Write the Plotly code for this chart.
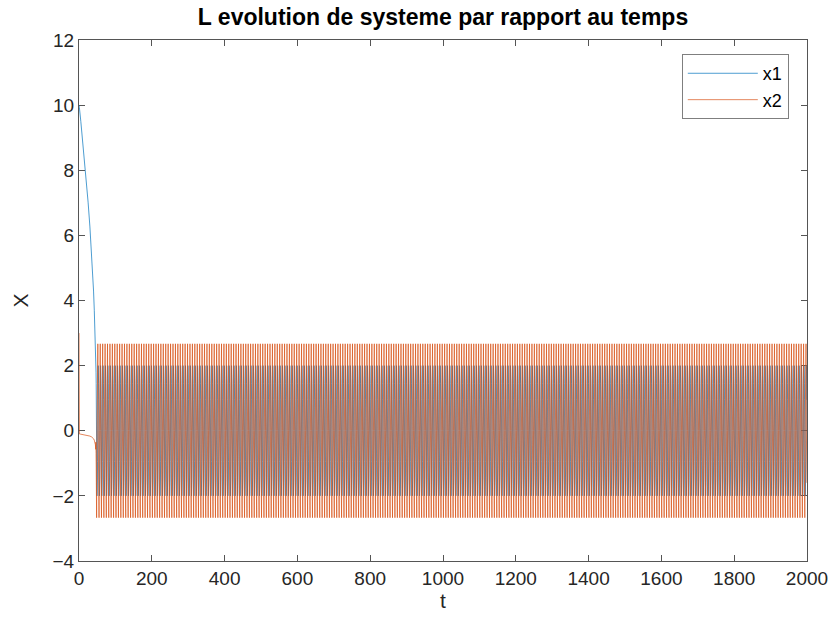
import plotly.graph_objects as go

# Start-up transient (slow drift of x1 from its initial value)
t_transient = [0.0, 0.02, 0.05, 0.1, 0.3, 1.0, 5.0, 10.0, 15.0, 20.0, 25.0, 30.0,
               35.0, 38.0, 40.0, 42.0, 44.0, 45.0, 46.0]
x1_transient = [10.0, 10.0, 9.99, 9.99, 9.98, 9.93, 9.50, 8.93, 8.35, 7.72, 7.02, 6.26,
                5.38, 4.80, 4.29, 3.70, 3.10, 2.70, 2.20]
x2_transient = [3.00, 1.60, 0.60, 0.05, -0.09, -0.10, -0.106, -0.113, -0.121, -0.132,
                -0.145, -0.164, -0.193, -0.218, -0.246, -0.29, -0.36, -0.43, -0.57]

# One period of the steady limit cycle (phase time, x1, x2)
cycle_period = 6.663
cycle_phase = [0.0, 0.4, 0.8, 1.2, 1.6, 2.0, 2.4, 2.8,
               3.33, 3.73, 4.13, 4.53, 4.93, 5.33, 5.73, 6.13]
cycle_x1 = [2.00, 1.95, 1.80, 1.45, 0.95, 0.15, -0.85, -1.65,
            -2.00, -1.95, -1.80, -1.45, -0.95, -0.15, 0.85, 1.65]
cycle_x2 = [0.00, -0.35, -0.70, -1.05, -1.60, -2.30, -2.67, -1.60,
            0.00, 0.35, 0.70, 1.05, 1.60, 2.30, 2.67, 1.60]

t_start = 46.0
t_end = 2000.0

x_ticks = [0, 200, 400, 600, 800, 1000, 1200, 1400, 1600, 1800, 2000]
y_ticks = [-4, -2, 0, 2, 4, 6, 8, 10, 12]

# Assemble the full time series: transient followed by the repeating cycle
t_all = list(t_transient)
x1_all = list(x1_transient)
x2_all = list(x2_transient)
k = 0
done = False
while not done:
    base = t_start + k * cycle_period
    for i, ph in enumerate(cycle_phase):
        if k == 0 and i == 0:
            continue
        tt = base + ph
        if tt > t_end:
            done = True
            break
        t_all.append(tt)
        x1_all.append(cycle_x1[i])
        x2_all.append(cycle_x2[i])
    k += 1

blue = "#0072BD"
orange = "#D95319"
axis_col = "#262626"
font_family = "Liberation Sans, Arial, sans-serif"

fig = go.Figure()
fig.add_trace(go.Scatter(x=t_all, y=x1_all, mode="lines", name="x1",
                         line=dict(color=blue, width=0.7)))
fig.add_trace(go.Scatter(x=t_all, y=x2_all, mode="lines", name="x2",
                         line=dict(color=orange, width=0.7)))

axis_common = dict(showline=True, linecolor="#555555", linewidth=1, mirror="ticks",
                   ticks="inside", ticklen=6, tickcolor="#555555", showgrid=False,
                   zeroline=False, layer="below traces", automargin=False,
                   tickfont=dict(family=font_family, size=19, color=axis_col))

fig.update_layout(
    width=832, height=618,
    margin=dict(l=79, r=25, t=40, b=57),
    paper_bgcolor="white", plot_bgcolor="white",
    font=dict(family=font_family, color=axis_col),
    title=dict(text="<b>L evolution de systeme par rapport au temps</b>",
               x=0.5, xref="paper", xanchor="center", y=0.972, yanchor="middle",
               font=dict(family=font_family, size=23, color="black")),
    xaxis=dict(range=[0, 2000], tickvals=x_ticks,
               title=dict(text="t", font=dict(family=font_family, size=21, color=axis_col),
                          standoff=4),
               **axis_common),
    yaxis=dict(range=[-4, 12], tickvals=y_ticks,
               title=dict(text="X", font=dict(family=font_family, size=21, color=axis_col),
                          standoff=18),
               **axis_common),
    legend=dict(x=0.975, y=0.973, xanchor="right", yanchor="top",
                bgcolor="white", bordercolor="#7f7f7f", borderwidth=1,
                itemwidth=70, tracegroupgap=0,
                font=dict(family=font_family, size=18, color="black")),
    showlegend=True,
)

fig.write_html("out.html")
